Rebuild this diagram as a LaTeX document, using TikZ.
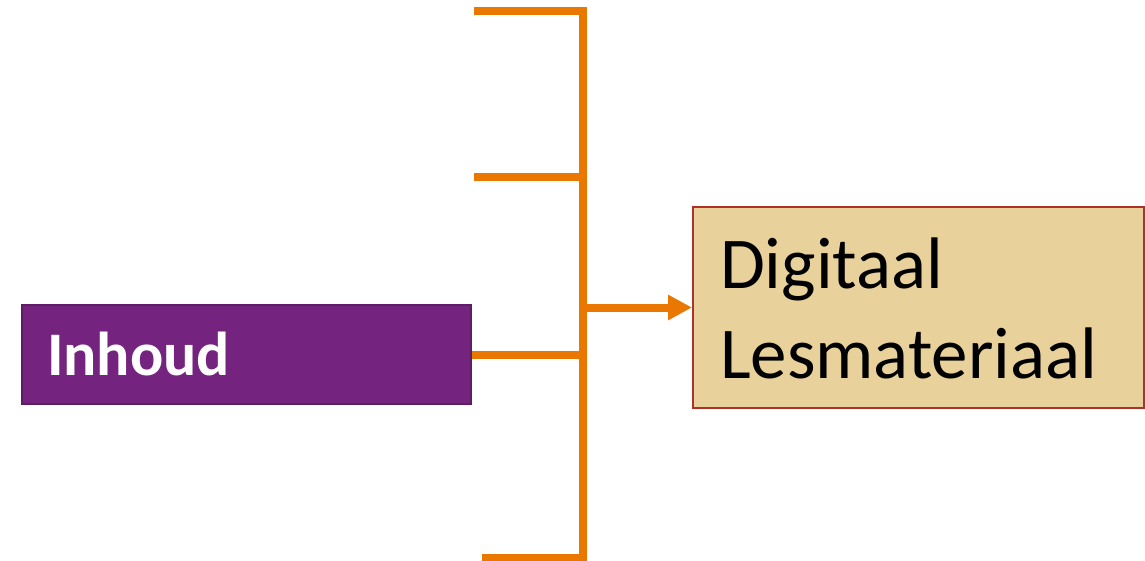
\documentclass[tikz,border=0pt]{standalone}
\usepackage{fontspec}
\setmainfont{Carlito}
\usetikzlibrary{arrows.meta}
\definecolor{barorange}{RGB}{234,120,0}
\definecolor{inhpurple}{RGB}{116,36,127}
\definecolor{inhborder}{RGB}{92,28,102}
\definecolor{papyrus}{RGB}{232,209,154}
\definecolor{papyrusborder}{RGB}{176,48,42}
\tikzset{
  bar/.style={draw=barorange, line width=8pt},
  inhbox/.style={draw=inhborder, fill=inhpurple, line width=2pt, inner sep=0pt, text=white},
  digbox/.style={draw=papyrusborder, fill=papyrus, line width=2pt, inner sep=0pt, text=black},
  cut/.style={inner sep=0pt, text=black}
}
\begin{document}
\begin{tikzpicture}[x=1pt,y=-1pt]
\useasboundingbox (0,0) rectangle (1145,561);
% clipped leftover letter at the left edge
\node[cut, anchor=base east] (cutletter) at (3,225) {\fontsize{70}{84}\selectfont s};
% boxes
\node[inhbox] (inh) at (246.5,354.5)
  {\parbox[c][99pt][t]{449pt}{\leftskip=25pt\rule{0pt}{70pt}\fontsize{62}{70}\selectfont\bfseries Inhoud}};
\node[digbox] (dig) at (918.5,307.5)
  {\parbox[c][201pt][t]{451pt}{\raggedright\leftskip=27pt\fontsize{73}{90}\selectfont\rule{0pt}{81pt}Digitaal\\Lesmateriaal}};
% bracket
\coordinate (t1) at (474,11);
\coordinate (t2) at (474,177);
\coordinate (t4) at (482,558);
\coordinate (sb) at (583,561);
\draw[bar] (t1) -| (sb);
\draw[bar] (t2) -- (t2 -| sb);
\draw[bar] (inh.east) -- (inh.east -| sb);
\draw[bar] (t4) -- (t4 -| sb);
\draw[bar, -{Triangle[length=24pt,width=24pt]}] (sb |- dig.west) -- (dig.west);
\end{tikzpicture}
\end{document}
